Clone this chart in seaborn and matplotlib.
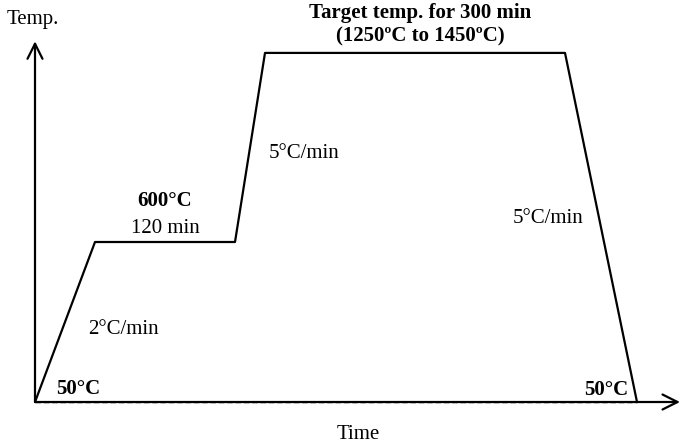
import matplotlib
matplotlib.use("Agg")
import matplotlib.pyplot as plt
import seaborn as sns
import pandas as pd

# Schematic heating profile (time in schematic units, temperature in °C)
time_pts = [0, 60, 200, 230, 530, 602]
temp_pts = [50, 600, 600, 1250, 1250, 50]
stage = ["start", "hold1 start", "hold1 end", "target start", "target end", "end"]

df = pd.DataFrame({"time": time_pts, "temp": temp_pts, "stage": stage})

sns.set_theme(style="white")
plt.rcParams["font.family"] = ["Liberation Serif", "DejaVu Serif"]
plt.rcParams["text.color"] = "black"

fig = plt.figure(figsize=(6.85, 4.45), dpi=100)
ax = fig.add_axes([0, 0, 1, 1])

sns.lineplot(data=df, x="time", y="temp", sort=False, color="black", lw=1.6, ax=ax)

ax.set_xlim(-35, 650)
ax.set_ylim(-97.8, 1431.9)
ax.set_axis_off()

# axes arrows
arrow_kw = dict(arrowstyle="->,head_length=0.9,head_width=0.45", color="black", lw=1.6,
                shrinkA=0, shrinkB=0)
ax.annotate("", xy=(0, 1290), xytext=(0, 50), arrowprops=arrow_kw)
ax.annotate("", xy=(645, 50), xytext=(0, 50), arrowprops=arrow_kw)
ax.plot([0, 602], [50, 50], color="black", lw=1.0, ls=(0, (4, 2)))

fs = 15
c = "black"
ax.text(-2, 1366, "Temp.", ha="center", va="center", fontsize=fs, color=c)
ax.text(323, -63, "Time", ha="center", va="center", fontsize=fs, color=c)
ax.text(385, 1386, "Target temp. for 300 min", ha="center", va="center", fontsize=fs, fontweight="bold", color=c)
ax.text(385, 1305, "(1250ºC to 1450ºC)", ha="center", va="center", fontsize=fs, fontweight="bold", color=c)
ax.text(130, 742, "600°C", ha="center", va="center", fontsize=fs, fontweight="bold", color=c)
ax.text(130, 646, "120 min", ha="center", va="center", fontsize=fs, color=c)
ax.text(88, 299, "2°C/min", ha="center", va="center", fontsize=fs, color=c)
ax.text(269, 903, "5°C/min", ha="center", va="center", fontsize=fs, color=c)
ax.text(513, 681, "5°C/min", ha="center", va="center", fontsize=fs, color=c)
ax.text(43, 96, "50°C", ha="center", va="center", fontsize=fs, fontweight="bold", color=c)
ax.text(571, 91, "50°C", ha="center", va="center", fontsize=fs, fontweight="bold", color=c)

fig.savefig("out.png", dpi=100)
